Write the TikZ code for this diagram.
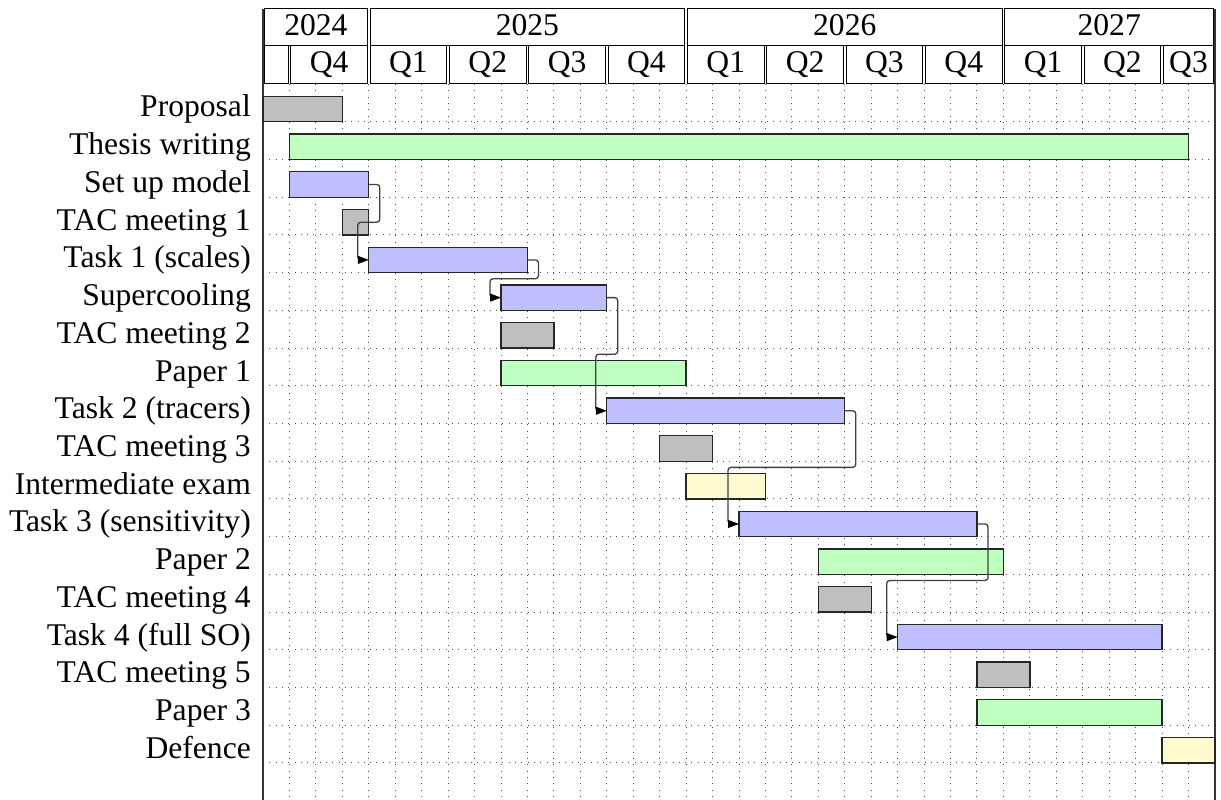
\documentclass[tikz,border=0pt]{standalone}
\usepackage{fontspec}
\setmainfont{Liberation Serif}
\usetikzlibrary{arrows.meta,calc}
\definecolor{bargrey}{RGB}{191,191,191}
\definecolor{bargreen}{RGB}{191,255,191}
\definecolor{barblue}{RGB}{191,191,255}
\definecolor{baryellow}{RGB}{255,250,205}
\def\monthw{26.444}
\def\rowh{37.72}
\newcommand\gbar[5]{\node[barbox, fill=#5, minimum width={(#3-#2)*\monthw*1pt}] (#1) at ({263+#2*\monthw},{84+(#4+1)*\rowh}) {};}
\newcommand\glink[2]{%
  \coordinate (#1-#2-m) at ($(#1.east)!.5!(#2.west)$);
  \coordinate (#2-in) at ([xshift=-11pt]#2.west);
  \draw[link] (#1.east) -- ++(11,0) coordinate (#1-out) -- (#1-out |- #1-#2-m) -- (#2-in |- #1-#2-m) -- (#2-in) -- ([xshift=-8pt]#2.west);
  \draw[linkhead] (#2-in) -- (#2.west);}
\begin{document}
\begin{tikzpicture}[x=1pt,y=-1pt,
  font=\fontsize{31.6}{36}\selectfont,
  gridline/.style={line width=1pt, black!70, dash pattern=on 1pt off 5.3pt},
  framebar/.style={line width=1.6pt, black!80},
  hcell/.style={draw, line width=1pt, rectangle, inner sep=0pt, outer sep=0pt, text height=21pt, text depth=5pt},
  barbox/.style={draw=black!85, line width=1.3pt, rectangle, inner sep=0pt, outer sep=0pt, minimum height=25.4pt, anchor=south west},
  lbl/.style={anchor=east, inner sep=0pt, text height=21pt, text depth=5pt},
  link/.style={draw=black!75, line width=1.3pt, rounded corners=3pt},
  linkhead/.style={draw=black, line width=0.8pt, -{Triangle[length=11pt,width=8pt]}}
]
\useasboundingbox (0,0) rectangle (1221,800);
\fill[white] (0,0) rectangle (1221,800);
% grid
\foreach \k in {1,...,35} \draw[gridline] ({263+\k*\monthw},84) -- ({263+\k*\monthw},800);
\foreach \k in {1,...,18} \draw[gridline] (263,{84+\k*\rowh}) -- (1215,{84+\k*\rowh});
% frame
\draw[framebar] (263,9) -- (263,800);
\draw[framebar] (1215,9) -- (1215,800);
% header: years
\foreach \a/\b/\t [count=\i] in {0/4/2024,4/16/2025,16/28/2026,28/36/2027}
  \node[hcell, minimum width={(\b-\a)*\monthw*1pt-2.6pt}, minimum height=37pt] (yr\i) at ({263+(\a+\b)/2*\monthw},27.5) {\t};
% header: quarters
\foreach \a/\b/\t [count=\i] in {0/1/{},1/4/Q4,4/7/Q1,7/10/Q2,10/13/Q3,13/16/Q4,16/19/Q1,19/22/Q2,22/25/Q3,25/28/Q4,28/31/Q1,31/34/Q2,34/36/Q3}
  \node[hcell, minimum width={(\b-\a)*\monthw*1pt-2.6pt}, minimum height=38pt] (qt\i) at ({263+(\a+\b)/2*\monthw},65) {\t};
% labels
\foreach \t [count=\i from 0] in {Proposal,Thesis writing,Set up model,TAC meeting 1,Task 1 (scales),Supercooling,TAC meeting 2,Paper 1,Task 2 (tracers),TAC meeting 3,Intermediate exam,Task 3 (sensitivity),Paper 2,TAC meeting 4,Task 4 (full SO),TAC meeting 5,Paper 3,Defence}
  \node[lbl] (lab\i) at (251,{84+\i*\rowh+25}) {\t};
% bars
\gbar{prop}{0}{3}{0}{bargrey}
\gbar{thesis}{1}{35}{1}{bargreen}
\gbar{setup}{1}{4}{2}{barblue}
\gbar{tac1}{3}{4}{3}{bargrey}
\gbar{task1}{4}{10}{4}{barblue}
\gbar{super}{9}{13}{5}{barblue}
\gbar{tac2}{9}{11}{6}{bargrey}
\gbar{paper1}{9}{16}{7}{bargreen}
\gbar{task2}{13}{22}{8}{barblue}
\gbar{tac3}{15}{17}{9}{bargrey}
\gbar{exam}{16}{19}{10}{baryellow}
\gbar{task3}{18}{27}{11}{barblue}
\gbar{paper2}{21}{28}{12}{bargreen}
\gbar{tac4}{21}{23}{13}{bargrey}
\gbar{task4}{24}{34}{14}{barblue}
\gbar{tac5}{27}{29}{15}{bargrey}
\gbar{paper3}{27}{34}{16}{bargreen}
\gbar{defence}{34}{36}{17}{baryellow}
% links
\glink{setup}{task1}
\glink{task1}{super}
\glink{super}{task2}
\glink{task2}{task3}
\glink{task3}{task4}
\end{tikzpicture}
\end{document}
